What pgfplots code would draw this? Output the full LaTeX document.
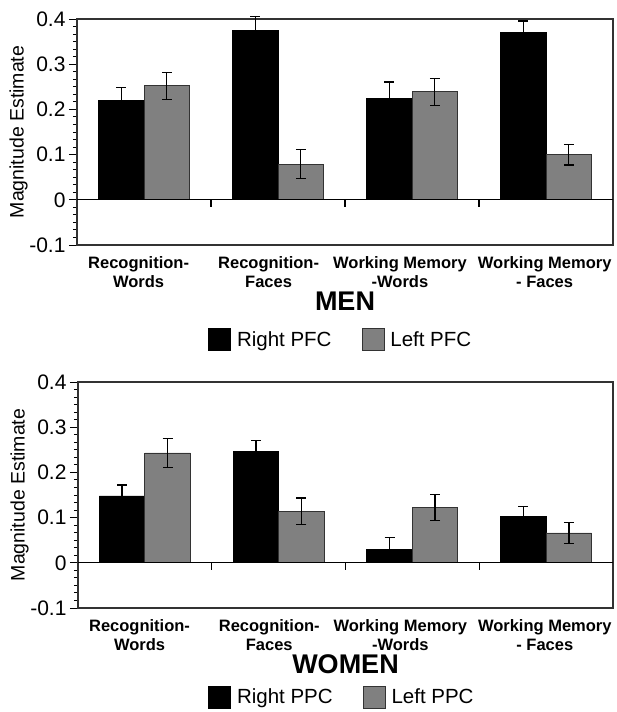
\documentclass[border=0pt]{standalone}
\usepackage{pgfplots}
\pgfplotsset{compat=1.18}
\usepackage{fontspec}
\setmainfont{Liberation Sans}
\definecolor{barGray}{RGB}{128,128,128}
\definecolor{frameGray}{RGB}{50,50,50}

\pgfplotsset{
 myaxis/.style={
  scale only axis, height=226pt,
  xmin=-0.5, xmax=3.5, ymin=-0.1, ymax=0.4,
  ytick={-0.1,0,0.1,0.2,0.3,0.4},
  yticklabels={-0.1,0,0.1,0.2,0.3,0.4},
  minor y tick num=5,
  ytick pos=left, tick align=outside,
  major tick length=8pt, minor tick length=4pt,
  xtick={-0.04,0.93,1.91,2.99},
  xticklabels={{Recognition-\\Words},{Recognition-\\Faces},{Working Memory\\-Words},{Working Memory\\- Faces}},
  x tick style={draw=none},
  xticklabel style={font=\bfseries\fontsize{16.5}{19.5}\selectfont, align=center},
  yticklabel style={font=\fontsize{21}{24}\selectfont},
  /pgf/number format/assume math mode=true,
  axis line style={line width=1.3pt, frameGray},
  every tick/.style={line width=1pt, black},
  ybar=0pt, bar width=45.5pt,
  clip=false,
  ylabel={Magnitude Estimate},
  ylabel style={at={(axis description cs:-0.109,0.5)}, anchor=center, font=\fontsize{19.5}{22}\selectfont},
  xlabel style={at={(axis description cs:0.5,-0.2876)}, anchor=base, font=\bfseries\fontsize{27}{32}\selectfont},
  legend columns=2,
  legend cell align=left,
  legend image code/.code={\draw[#1, line width=0.8pt] (0pt,-11pt) rectangle (22pt,11pt);},
  legend style={anchor=north west, draw=none, fill=none, inner sep=0pt,
    font=\fontsize{20.5}{24}\selectfont,
    /tikz/every odd column/.append style={column sep=4pt},
    /tikz/every even column/.append style={column sep=28pt}},
 },
 rbar/.style={fill=black, draw=black, line width=0.8pt,
   error bars/.cd, y dir=both, y explicit,
   error bar style={line width=1.4pt, black},
   error mark options={rotate=90, mark size=5pt, line width=1.4pt, black}},
 lbar/.style={fill=barGray, draw=black!80, line width=0.8pt,
   error bars/.cd, y dir=both, y explicit,
   error bar style={line width=1.4pt, black},
   error mark options={rotate=90, mark size=5pt, line width=1.4pt, black}},
}

\begin{document}
\begin{tikzpicture}
% ---------- MEN ----------
\begin{axis}[myaxis, width=536pt, at={(77pt,-245pt)}, anchor=south west,
  xlabel={MEN},
  legend style={at={(axis description cs:0.2444,-0.3673)}}]
\addplot[rbar] coordinates {(0,0.220) +- (0,0.029) (1,0.374) +- (0,0.031) (2,0.225) +- (0,0.036) (3,0.371) +- (0,0.025)};
\addplot[lbar] coordinates {(0,0.252) +- (0,0.030) (1,0.079) +- (0,0.032) (2,0.239) +- (0,0.030) (3,0.100) +- (0,0.023)};
\legend{Right PFC, Left PFC}
\draw[line width=1.3pt] (axis cs:-0.5,0) -- (axis cs:3.5,0);
\draw[line width=1.2pt] (axis cs:0.5,0) -- ++(0pt,-7pt);
\draw[line width=1.2pt] (axis cs:1.5,0) -- ++(0pt,-7pt);
\draw[line width=1.2pt] (axis cs:2.5,0) -- ++(0pt,-7pt);
\end{axis}
% ---------- WOMEN ----------
\begin{axis}[myaxis, width=535pt, at={(78pt,-608pt)}, anchor=south west,
  xlabel={WOMEN},
  legend style={at={(axis description cs:0.243,-0.343)}}]
\addplot[rbar] coordinates {(0,0.148) +- (0,0.024) (1,0.246) +- (0,0.024) (2,0.030) +- (0,0.026) (3,0.103) +- (0,0.021)};
\addplot[lbar] coordinates {(0,0.243) +- (0,0.032) (1,0.114) +- (0,0.029) (2,0.122) +- (0,0.029) (3,0.066) +- (0,0.023)};
\legend{Right PPC, Left PPC}
\draw[line width=1.3pt] (axis cs:-0.5,0) -- (axis cs:3.5,0);
\draw[line width=1.2pt] (axis cs:0.5,0) -- ++(0pt,-7pt);
\draw[line width=1.2pt] (axis cs:1.5,0) -- ++(0pt,-7pt);
\draw[line width=1.2pt] (axis cs:2.5,0) -- ++(0pt,-7pt);
\end{axis}
\pgfresetboundingbox
\path[use as bounding box] (0pt,0pt) rectangle (617pt,-712pt);
\end{tikzpicture}
\end{document}
